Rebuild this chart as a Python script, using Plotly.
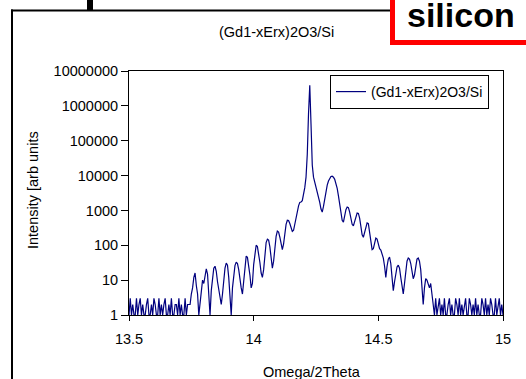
import numpy as np
import plotly.graph_objects as go

# Omega/2Theta scan, 13.5 to 15 deg in 0.005 deg steps
two_theta_start = 13.5
two_theta_step = 0.005

intensity = [
    # 13.500 - 13.740 : background
    1, 3, 1, 2, 1, 1, 3, 1, 2, 3, 1, 2, 1, 1, 2, 3, 1, 1, 2, 1,
    3, 2, 1, 1, 3, 1, 2, 1, 2, 3, 1, 1, 2, 1, 3, 1, 1, 2, 2, 1,
    3, 1, 2, 1, 1, 3, 1, 2, 2,
    # 13.745 - 14.140 : low-angle thickness fringes
    2, 4, 6, 12, 16, 7, 4, 1, 2, 6, 10, 8, 14, 21, 15, 3, 1, 5, 12, 22,
    25, 18, 9, 5, 3, 2, 4, 10, 22, 31, 27, 12, 3, 1, 6, 15, 26, 33, 30, 20,
    10, 6, 4, 9, 25, 49, 45, 28, 14, 6, 8, 28, 65, 100, 92, 60, 32, 16, 12, 20,
    55, 120, 150, 140, 90, 40, 22, 35, 90, 180, 255, 240, 170, 100, 75, 110, 230, 400, 520, 510,
    # 14.145 - 14.270 : substrate peak
    420, 310, 250, 270, 420, 700, 1000, 1350, 1700, 1750, 1900, 2800, 4500, 9000, 40000,
    600000, 3900000, 300000, 20000, 9000, 6500, 5000, 3800, 2600, 1700, 1100,
    # 14.275 - 14.720 : film peak and high-angle fringes
    900, 1300, 2300, 3700, 5300, 7000, 8500, 9400, 9600, 9000, 7800, 6200, 4300, 2600, 1400,
    800, 520, 460, 700, 1050, 1250, 1200, 900, 600, 400, 360, 480, 700, 840, 820,
    600, 350, 200, 170, 250, 380, 440, 420, 260, 130, 75, 80, 120, 160, 150,
    110, 80, 73, 55, 43, 25, 12, 25, 40, 46, 30, 12, 5, 9, 18,
    24, 27, 22, 12, 7, 4, 8, 20, 35, 43, 40, 30, 18, 11, 14,
    28, 40, 43, 35, 20, 8, 2, 6, 11, 10, 8, 6, 8, 3, 2,
    # 14.725 - 15.000 : background
    1, 3, 1, 2, 3, 1, 2, 1, 3, 1, 1, 2, 3, 1, 2, 1, 1, 3, 2, 1,
    3, 1, 2, 1, 2, 3, 1, 1, 3, 2, 1, 2, 1, 3, 1, 2, 1, 1, 3, 2,
    1, 3, 1, 2, 1, 3, 2, 1, 1, 3, 1, 2, 3, 1, 2, 1,
]

two_theta = np.round(two_theta_start + two_theta_step * np.arange(len(intensity)), 3)

series_name = "(Gd1-xErx)2O3/Si"
chart_title = "(Gd1-xErx)2O3/Si"
x_title = "Omega/2Theta"
y_title = "Intensity [arb units"
badge_text = "silicon"

x_ticks = [13.5, 14, 14.5, 15]
x_ticktext = ["13.5", "14", "14.5", "15"]
y_ticks = [1, 10, 100, 1000, 10000, 100000, 1000000, 10000000]
y_ticktext = ["1", "10", "100", "1000", "10000", "100000", "1000000", "10000000"]

FONT = "Liberation Sans, Arial, sans-serif"
W, H = 526, 379
L, R, T, B = 129, 23, 71, 64
PW, PH = W - L - R, H - T - B


def px(xp):
    return (xp - L) / PW


def py(yp):
    return (H - B - yp) / PH


def hline(x0, x1, y, color, width):
    return dict(type="line", xref="paper", yref="paper",
                x0=px(x0), x1=px(x1), y0=py(y), y1=py(y),
                line=dict(color=color, width=width))


def vline(x, y0, y1, color, width):
    return dict(type="line", xref="paper", yref="paper",
                x0=px(x), x1=px(x), y0=py(y0), y1=py(y1),
                line=dict(color=color, width=width))


fig = go.Figure()
fig.add_trace(go.Scatter(
    x=two_theta, y=intensity, mode="lines", name=series_name,
    line=dict(color="#00007f", width=1.2),
    showlegend=True,
))

fig.update_layout(
    width=W, height=H,
    margin=dict(l=L, r=R, t=T, b=B),
    paper_bgcolor="white", plot_bgcolor="white",
    font=dict(family=FONT, size=14.5, color="black"),
    showlegend=True,
    legend=dict(
        x=px(330), y=py(75), xanchor="left", yanchor="top",
        bordercolor="black", borderwidth=1, bgcolor="white",
        font=dict(size=14), tracegroupgap=0,
    ),
    xaxis=dict(
        range=[13.5, 15], tickvals=x_ticks, ticktext=x_ticktext,
        ticks="outside", ticklen=5, tickcolor="black", ticklabelstandoff=6,
        showline=True, linecolor="black", linewidth=1, mirror=True,
        showgrid=False, zeroline=False,
    ),
    yaxis=dict(
        type="log", range=[0, 7], tickvals=y_ticks, ticktext=y_ticktext,
        ticks="outside", ticklen=7, tickcolor="black",
        showline=True, linecolor="black", linewidth=1, mirror=True,
        showgrid=False, zeroline=False,
    ),
    shapes=[
        # outer chart frame: top and left edges
        hline(11, 392, 10.5, "black", 2),
        vline(12, 9.5, 379, "black", 2),
        # small black bar above the frame
        dict(type="rect", xref="paper", yref="paper",
             x0=px(87), x1=px(93), y0=py(10), y1=py(0),
             line=dict(width=0), fillcolor="black"),
        # red label box (white fill, red left and bottom edges)
        dict(type="rect", xref="paper", yref="paper",
             x0=px(392.5), x1=px(526), y0=py(42.5), y1=py(0),
             line=dict(width=0), fillcolor="white"),
        vline(392.5, 0, 45, "#ff0000", 5),
        hline(390, 526, 42.5, "#ff0000", 5),
    ],
    annotations=[
        dict(text=chart_title, xref="paper", yref="paper",
             x=px(276), y=py(32), xanchor="center", yanchor="middle",
             showarrow=False, font=dict(size=14.5)),
        dict(text=x_title, xref="paper", yref="paper",
             x=px(312), y=py(372), xanchor="center", yanchor="middle",
             showarrow=False, font=dict(size=14.5)),
        dict(text=y_title, xref="paper", yref="paper",
             x=px(33), y=py(190), xanchor="center", yanchor="middle",
             textangle=-90, showarrow=False, font=dict(size=14.5)),
        dict(text="<b>" + badge_text + "</b>", xref="paper", yref="paper",
             x=px(405), y=py(15), xanchor="left", yanchor="middle",
             showarrow=False, font=dict(size=34, color="black")),
    ],
)

fig.write_html("out.html")
